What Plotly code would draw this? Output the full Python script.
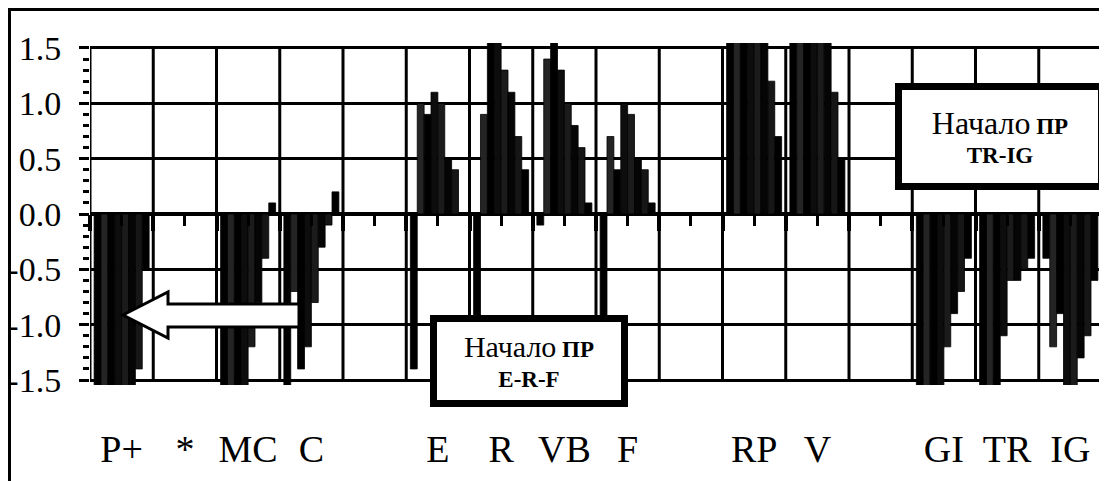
import plotly.graph_objects as go

# ---------------- data ----------------
categories = ["P+", "*", "MC", "C", "", "E", "R", "VB", "F", "", "RP", "V", "", "GI", "TR", "IG"]

s1 = [-1.8, None, -1.8, -1.8, None, -1.4, -1.4, -0.1, -1.4, None, 1.8, 1.8, None, -1.8, -1.8, -0.4]
s2 = [-1.8, None, -1.8, -0.7, None, 1.0, 0.9, 1.4, 0.7, None, 1.8, 1.8, None, -1.8, -1.8, -1.2]
s3 = [-1.8, None, -1.8, -1.4, None, 0.9, 1.8, 1.8, 0.4, None, 1.8, 1.8, None, -1.8, -1.8, -0.9]
s4 = [-1.8, None, -1.8, -1.2, None, 1.1, 1.8, 1.3, 1.0, None, 1.8, 1.8, None, -1.8, -1.1, -1.8]
s5 = [-1.8, None, -1.2, -0.8, None, 1.0, 1.3, 1.0, 0.9, None, 1.8, 1.8, None, -1.2, -0.6, -1.8]
s6 = [-1.8, None, -0.8, -0.3, None, 0.5, 1.1, 0.8, 0.5, None, 1.8, 1.8, None, -0.9, -0.6, -1.3]
s7 = [-1.4, None, -0.4, -0.1, None, 0.4, 0.7, 0.6, 0.4, None, 1.2, 1.1, None, -0.7, -0.5, -1.1]
s8 = [-0.5, None, 0.1, 0.2, None, 0.0, 0.4, 0.1, 0.1, None, 0.7, 0.5, None, -0.4, -0.4, -0.6]

series = [s1, s2, s3, s4, s5, s6, s7, s8]
series_colors = ["#000000", "#242424", "#000000", "#0d0d0d", "#1b1b1b", "#050505", "#161616", "#000000"]

ytick_vals = [-1.5, -1.0, -0.5, 0.0, 0.5, 1.0, 1.5]
ytick_text = ["-1.5", "-1.0", "-0.5", "0.0", "0.5", "1.0", "1.5"]

# ---------------- layout geometry ----------------
# the page body adds an 8px offset; work in window pixels and shift back
OFF = 8
W, H = 1107, 481
ML = 90 - OFF
MT = 43 - OFF
MB = H - (385 - OFF)
MR = W - (1102 - OFF)
PW, PH = W - ML - MR, H - MT - MB


def px(xw):
    return (xw - OFF - ML) / PW


def py(yw):
    return (H - MB - (yw - OFF)) / PH


positions = list(range(len(categories)))
boundaries = [p - 0.5 for p in positions] + [positions[-1] + 0.5]

fig = go.Figure()
for s, c in zip(series, series_colors):
    fig.add_trace(go.Bar(
        x=positions, y=s,
        marker=dict(color=c, line=dict(color="black", width=0.8)),
        hoverinfo="skip", showlegend=False,
    ))

serif = "Liberation Serif, Times New Roman, serif"

shapes = []
for b in boundaries:
    shapes.append(dict(type="line", xref="x", yref="y", x0=b, x1=b,
                       y0=min(ytick_vals), y1=max(ytick_vals),
                       line=dict(color="black", width=3), layer="below"))

# outer frame (open on the right and bottom)
shapes.append(dict(type="rect", xref="paper", yref="paper",
                   x0=px(9.5), x1=px(1140), y0=py(520), y1=py(9.5),
                   line=dict(color="black", width=3), fillcolor="rgba(0,0,0,0)", layer="above"))

# white arrow pointing left
pts = [(123, 315), (168, 292), (168, 304), (299, 304), (299, 327), (168, 327), (168, 338)]
path = "M " + " L ".join(f"{px(a):.5f},{py(b):.5f}" for a, b in pts) + " Z"
shapes.append(dict(type="path", xref="paper", yref="paper", path=path,
                   fillcolor="white", line=dict(color="black", width=3), layer="above"))

annotations = [
    dict(xref="paper", yref="paper", x=px(430), y=py(315), xanchor="left", yanchor="top",
         text="<span style='font-size:30px'>Начало</span> <b>ПР</b><br><b>E-R-F</b>",
         showarrow=False, align="center", valign="middle",
         width=184, height=78, borderpad=0, borderwidth=7, bordercolor="black", bgcolor="white",
         font=dict(family=serif, size=23, color="black")),
    dict(xref="paper", yref="paper", x=px(895), y=py(83), xanchor="left", yanchor="top",
         text="<span style='font-size:32px'>Начало</span> <b>ПР</b><br><b>TR-IG</b>",
         showarrow=False, align="center", valign="middle",
         width=196, height=93, borderpad=0, borderwidth=7, bordercolor="black", bgcolor="white",
         font=dict(family=serif, size=23, color="black")),
]

fig.update_layout(
    width=W, height=H,
    margin=dict(l=ML, r=MR, t=MT, b=MB, autoexpand=False),
    paper_bgcolor="white", plot_bgcolor="white",
    barmode="group", bargap=0.13, bargroupgap=0,
    showlegend=False,
    shapes=shapes, annotations=annotations,
    xaxis=dict(
        range=[boundaries[0], boundaries[-1]],
        tickmode="array", tickvals=positions, ticktext=categories,
        ticks="outside", ticklen=11, tickwidth=3, tickcolor="black",
        showgrid=False, zeroline=False, showline=False,
        anchor="free", position=0.5,
        tickfont=dict(family=serif, size=38, color="black"),
        ticklabelstandoff=190, automargin=False,
        minor=dict(tickmode="array", tickvals=boundaries, ticks="outside",
                   ticklen=16, tickwidth=4, tickcolor="black", showgrid=False),
    ),
    yaxis=dict(
        range=[-1.545, 1.545],
        tickmode="array", tickvals=ytick_vals, ticktext=ytick_text,
        ticks="outside", ticklen=10, tickwidth=3, tickcolor="black",
        showgrid=True, gridcolor="black", gridwidth=3,
        zeroline=True, zerolinecolor="black", zerolinewidth=4,
        showline=False,
        tickfont=dict(family=serif, size=34, color="black"),
        ticklabelstandoff=11, automargin=False,
        minor=dict(tickmode="linear", tick0=0, dtick=0.1, ticks="outside",
                   ticklen=6, tickwidth=3, tickcolor="black", showgrid=False),
    ),
)

fig.write_html("out.html")
